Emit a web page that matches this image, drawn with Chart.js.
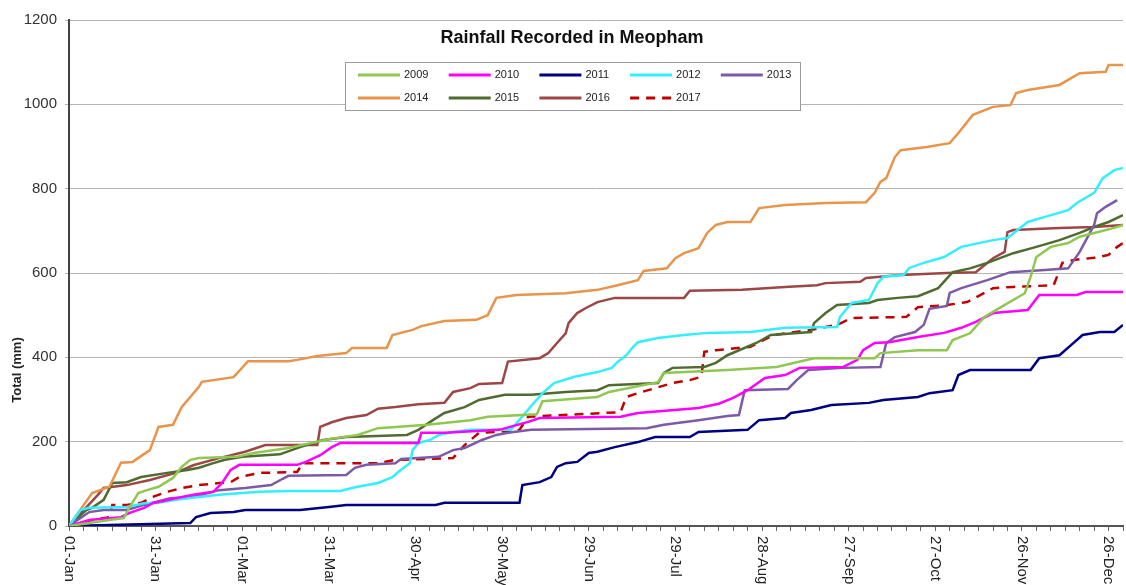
<!DOCTYPE html>
<html>
<head>
<meta charset="utf-8">
<title>Rainfall Recorded in Meopham</title>
<script src="https://cdn.jsdelivr.net/npm/chart.js@4.4.0/dist/chart.umd.min.js"></script>
<style>
  html, body { margin: 0; padding: 0; background: #fff; }
  #wrap { width: 1126px; height: 585px; }
</style>
</head>
<body>
<div id="wrap"><canvas id="rainChart" width="1126" height="585"></canvas></div>
<script>
// x axis: day of year (leap-year template, 01-Jan = 0)
const tickDays = [0, 30, 60, 90, 120, 150, 180, 210, 240, 270, 300, 330, 360];
const tickLabels = ['01-Jan', '31-Jan', '01-Mar', '31-Mar', '30-Apr', '30-May', '29-Jun',
                    '29-Jul', '28-Aug', '27-Sep', '27-Oct', '26-Nov', '26-Dec'];
const years = ['2009', '2010', '2011', '2012', '2013', '2014', '2015', '2016', '2017'];

// cumulative totals, [day, mm]
const rain2009 = [[0,0],[14,14],[19,19],[21,45],[24,78],[27,85],[31,93],[36,114],[39,140],[42,157],[45,161],[58,164],[64,173],[76,185],[90,206],[100,216],[107,232],[124,240],[139,251],[145,259],[162,265],[164,296],[183,306],[187,318],[204,341],[206,363],[228,370],[245,377],[258,398],[279,398],[281,410],[294,417],[304,417],[306,441],[312,457],[317,496],[322,516],[331,552],[333,591],[335,638],[340,662],[346,671],[350,686],[355,695],[362,707],[365,714]];
const rain2010 = [[0,0],[7,14],[18,21],[21,31],[26,43],[29,54],[37,66],[43,74],[50,81],[53,102],[56,133],[59,145],[79,145],[82,152],[87,168],[91,187],[94,197],[121,197],[122,221],[130,221],[149,228],[159,247],[163,256],[191,259],[197,268],[218,280],[225,290],[230,304],[235,322],[241,351],[248,358],[253,375],[268,377],[273,394],[275,417],[279,434],[284,436],[294,448],[303,458],[309,470],[314,484],[320,505],[325,508],[332,512],[336,548],[349,548],[352,555],[365,555]];
const rain2011 = [[0,0],[42,7],[44,21],[49,31],[57,33],[61,38],[80,38],[90,45],[96,50],[127,50],[130,55],[156,55],[157,97],[163,104],[167,116],[169,140],[172,149],[176,152],[180,173],[183,176],[189,187],[197,199],[203,211],[215,211],[218,223],[235,228],[239,251],[248,256],[250,268],[257,275],[264,287],[277,292],[282,299],[294,306],[298,315],[306,322],[308,358],[312,370],[333,370],[336,398],[343,405],[347,429],[351,453],[357,460],[362,460],[365,477]];
const rain2012 = [[0,0],[4,38],[7,43],[20,45],[26,54],[31,55],[37,62],[45,69],[52,74],[66,81],[76,83],[94,83],[99,92],[107,102],[112,116],[114,128],[118,149],[119,180],[121,197],[125,204],[128,216],[133,223],[139,228],[153,228],[155,244],[158,268],[161,292],[164,315],[168,339],[175,354],[183,365],[188,375],[190,389],[193,405],[195,422],[197,436],[204,446],[213,453],[221,458],[236,460],[248,470],[266,472],[267,496],[271,529],[277,536],[280,576],[282,591],[289,595],[291,612],[296,624],[303,638],[309,662],[320,678],[325,683],[332,721],[338,733],[346,749],[349,766],[355,790],[358,825],[362,844],[365,849]];
const rain2013 = [[0,0],[7,33],[12,38],[20,38],[26,50],[35,66],[43,69],[52,85],[61,90],[70,97],[74,112],[76,119],[96,121],[99,138],[103,145],[113,149],[115,159],[128,164],[133,180],[137,185],[143,204],[148,216],[152,221],[160,228],[200,232],[206,240],[218,251],[228,261],[232,263],[234,322],[249,325],[252,346],[256,370],[268,375],[281,377],[283,434],[286,448],[293,460],[296,477],[298,515],[304,522],[305,553],[309,564],[318,583],[326,602],[338,607],[346,611],[350,650],[355,714],[356,742],[359,757],[363,773]];
const rain2014 = [[0,0],[8,78],[14,93],[18,150],[22,152],[28,180],[31,235],[36,240],[39,282],[45,330],[46,342],[57,353],[62,391],[76,391],[79,394],[86,403],[96,410],[98,422],[110,422],[112,453],[119,465],[122,474],[130,486],[141,489],[145,500],[148,541],[155,548],[172,552],[183,560],[190,571],[197,583],[199,605],[207,611],[210,635],[213,647],[218,659],[221,695],[224,714],[228,721],[236,721],[239,754],[248,761],[262,766],[276,768],[279,790],[281,816],[283,825],[286,875],[288,891],[297,899],[305,908],[308,932],[313,975],[320,994],[326,998],[328,1027],[332,1034],[343,1046],[346,1058],[350,1074],[359,1077],[360,1093],[365,1093]];
const rain2015 = [[0,0],[6,38],[8,43],[12,62],[15,102],[20,104],[25,116],[34,126],[41,133],[45,138],[50,149],[54,157],[60,164],[73,170],[80,187],[88,204],[96,211],[117,216],[121,228],[126,251],[130,268],[137,282],[142,299],[151,311],[160,311],[172,318],[183,322],[187,334],[204,339],[206,363],[209,375],[220,377],[224,387],[228,405],[238,434],[243,453],[257,460],[258,481],[262,505],[266,524],[277,529],[280,536],[287,541],[294,545],[301,564],[306,602],[312,611],[318,624],[327,647],[335,662],[343,678],[350,695],[355,709],[360,721],[365,737]];
const rain2016 = [[0,0],[10,74],[12,90],[20,97],[28,109],[37,126],[43,144],[52,161],[61,176],[68,192],[86,192],[87,235],[91,246],[96,256],[103,263],[107,278],[113,282],[121,289],[130,292],[133,318],[139,327],[142,337],[150,339],[152,390],[163,398],[166,410],[169,434],[172,457],[173,481],[176,505],[179,517],[183,531],[189,541],[213,541],[215,558],[233,560],[248,567],[259,571],[262,576],[274,579],[276,588],[288,595],[304,600],[314,602],[320,635],[324,650],[325,697],[327,702],[343,707],[355,709],[365,714]];
const rain2017 = [[0,0],[8,14],[14,21],[15,50],[20,50],[25,55],[29,69],[34,81],[39,90],[45,97],[52,102],[56,104],[59,116],[66,126],[79,128],[81,149],[107,149],[113,157],[133,161],[137,192],[142,221],[148,223],[156,228],[159,259],[191,270],[193,306],[197,315],[203,327],[209,339],[215,346],[219,354],[220,413],[224,417],[236,425],[244,453],[257,465],[266,477],[271,493],[290,496],[294,519],[304,524],[311,531],[320,564],[327,567],[341,571],[344,624],[348,631],[355,636],[360,643],[363,662],[365,671]];

const allRain = [rain2009, rain2010, rain2011, rain2012, rain2013, rain2014, rain2015, rain2016, rain2017];
const lineColors = ['#8fc750', '#ff00ff', '#000080', '#33eeff', '#7d5aa8', '#e8944a', '#4f6b2f', '#9c4646', '#c00000'];

const FONT = '"Liberation Sans", Arial, sans-serif';

// titel, as-label, datums en legenda worden zelf getekend (ze staan binnen/naast het plotvlak)
const overlayPlugin = {
    id: 'overlay',
    afterDraw(chart) {
        const ctx = chart.ctx;
        const xScale = chart.scales.x;
        const area = chart.chartArea;
        ctx.save();

        // datumlabels, met de klok mee gedraaid
        ctx.font = '15px ' + FONT;
        ctx.fillStyle = '#222';
        ctx.textAlign = 'left';
        ctx.textBaseline = 'middle';
        tickDays.forEach((d, i) => {
            ctx.save();
            ctx.translate(xScale.getPixelForValue(d), area.bottom + 10);
            ctx.rotate(Math.PI / 2);
            ctx.fillText(tickLabels[i], 0, 0);
            ctx.restore();
        });

        // y-as titel
        ctx.save();
        ctx.font = 'bold 13px ' + FONT;
        ctx.textAlign = 'center';
        ctx.translate(17, 370);
        ctx.rotate(-Math.PI / 2);
        ctx.fillText('Total (mm)', 0, 0);
        ctx.restore();

        // grafiektitel
        ctx.font = 'bold 18px ' + FONT;
        ctx.textAlign = 'center';
        ctx.fillStyle = '#111';
        ctx.fillText('Rainfall Recorded in Meopham', 572, 38);

        // legenda in een kader
        const boxX = 345, boxY = 62, boxW = 455, boxH = 48;
        ctx.fillStyle = '#fff';
        ctx.fillRect(boxX, boxY, boxW, boxH);
        ctx.strokeStyle = '#9a9a9a';
        ctx.lineWidth = 1;
        ctx.strokeRect(boxX + 0.5, boxY + 0.5, boxW, boxH);

        ctx.font = '11px ' + FONT;
        ctx.textAlign = 'left';
        chart.data.datasets.forEach((ds, i) => {
            const col = i % 5;
            const row = Math.floor(i / 5);
            const lx = boxX + 13 + col * 90.7;
            const ly = boxY + 13 + row * 23;
            ctx.beginPath();
            ctx.setLineDash(ds.borderDash || []);
            ctx.strokeStyle = ds.borderColor;
            ctx.lineWidth = 3;
            ctx.moveTo(lx, ly);
            ctx.lineTo(lx + 42, ly);
            ctx.stroke();
            ctx.setLineDash([]);
            ctx.fillStyle = '#222';
            ctx.fillText(ds.label, lx + 46, ly);
        });

        ctx.restore();
    }
};

const ctx = document.getElementById('rainChart').getContext('2d');
const rainChart = new Chart(ctx, {
    type: 'line',
    data: {
        datasets: years.map((yr, i) => ({
            label: yr,
            data: allRain[i].map(p => ({ x: p[0], y: p[1] })),
            borderColor: lineColors[i],
            backgroundColor: lineColors[i],
            borderWidth: 2.5,
            borderDash: yr === '2017' ? [9, 7] : undefined,
            pointRadius: 0,
            tension: 0,
            fill: false
        }))
    },
    options: {
        responsive: false,
        animation: false,
        layout: { padding: { top: 20, left: 0, right: 0, bottom: 0 } },
        plugins: {
            legend: { display: false },
            title: { display: false },
            tooltip: { enabled: false }
        },
        scales: {
            x: {
                type: 'linear',
                min: 0,
                max: 365,
                afterFit: function(scale) { scale.height = 59; },
                border: { color: '#555', width: 2 },
                grid: { drawOnChartArea: false, drawTicks: true, tickLength: 5, color: '#666' },
                ticks: {
                    stepSize: 5,
                    autoSkip: false,
                    maxRotation: 0,
                    callback: () => ''
                }
            },
            y: {
                min: 0,
                max: 1200,
                afterFit: function(scale) { scale.width = 69; },
                border: { color: '#444', width: 2 },
                grid: { color: '#b4b4b4', lineWidth: 1, tickLength: 4 },
                ticks: {
                    stepSize: 200,
                    padding: 8,
                    color: '#333',
                    font: { family: FONT, size: 15 },
                    callback: (v) => String(v)
                }
            }
        }
    },
    plugins: [overlayPlugin]
});
</script>
</body>
</html>
